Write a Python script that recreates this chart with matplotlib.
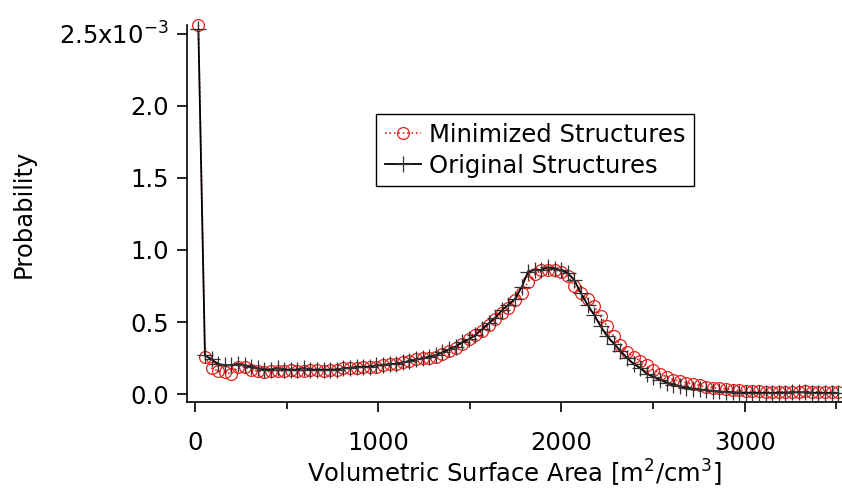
import matplotlib.pyplot as plt
from matplotlib.ticker import MultipleLocator, FuncFormatter

# bin centres [m^2/cm^3]
area = [18, 54, 90, 126, 162, 198, 234, 270, 306, 342,
        378, 414, 450, 486, 522, 558, 594, 630, 666, 702,
        738, 774, 810, 846, 882, 918, 954, 990, 1026, 1062,
        1098, 1134, 1170, 1206, 1242, 1278, 1314, 1350, 1386, 1422,
        1458, 1494, 1530, 1566, 1602, 1638, 1674, 1710, 1746, 1782,
        1818, 1854, 1890, 1926, 1962, 1998, 2034, 2070, 2106, 2142,
        2178, 2214, 2250, 2286, 2322, 2358, 2394, 2430, 2466, 2502,
        2538, 2574, 2610, 2646, 2682, 2718, 2754, 2790, 2826, 2862,
        2898, 2934, 2970, 3006, 3042, 3078, 3114, 3150, 3186, 3222,
        3258, 3294, 3330, 3366, 3402, 3438, 3474, 3510]

# probability in units of 1e-3
original = [2.53, 0.27, 0.24, 0.21, 0.20, 0.20, 0.21, 0.20, 0.19, 0.18,
            0.17, 0.17, 0.18, 0.17, 0.17, 0.17, 0.18, 0.17, 0.17, 0.17,
            0.17, 0.17, 0.18, 0.18, 0.19, 0.19, 0.19, 0.20, 0.20, 0.21,
            0.21, 0.22, 0.23, 0.24, 0.25, 0.26, 0.27, 0.29, 0.31, 0.33,
            0.36, 0.38, 0.41, 0.45, 0.49, 0.53, 0.58, 0.62, 0.66, 0.74,
            0.85, 0.86, 0.86, 0.88, 0.87, 0.86, 0.84, 0.79, 0.70, 0.62,
            0.55, 0.47, 0.40, 0.35, 0.30, 0.25, 0.21, 0.18, 0.14, 0.12,
            0.10, 0.08, 0.065, 0.055, 0.045, 0.038, 0.032, 0.027, 0.022, 0.018,
            0.015, 0.013, 0.011, 0.010, 0.009, 0.010, 0.008, 0.009, 0.010, 0.011,
            0.012, 0.013, 0.012, 0.010, 0.009, 0.008, 0.008, 0.007]

minimized = [2.56, 0.26, 0.18, 0.16, 0.15, 0.14, 0.19, 0.19, 0.17, 0.16,
             0.15, 0.16, 0.16, 0.16, 0.17, 0.16, 0.16, 0.17, 0.17, 0.16,
             0.17, 0.17, 0.18, 0.18, 0.18, 0.19, 0.19, 0.19, 0.20, 0.21,
             0.21, 0.22, 0.23, 0.24, 0.25, 0.25, 0.26, 0.28, 0.30, 0.32,
             0.35, 0.38, 0.41, 0.44, 0.48, 0.52, 0.56, 0.60, 0.65, 0.70,
             0.78, 0.83, 0.86, 0.86, 0.86, 0.85, 0.82, 0.75, 0.70, 0.66,
             0.61, 0.54, 0.47, 0.40, 0.34, 0.29, 0.26, 0.23, 0.20, 0.17,
             0.14, 0.12, 0.10, 0.09, 0.08, 0.07, 0.06, 0.05, 0.045, 0.04,
             0.035, 0.03, 0.025, 0.022, 0.02, 0.018, 0.017, 0.016, 0.015, 0.015,
             0.016, 0.017, 0.018, 0.017, 0.016, 0.015, 0.014, 0.013]

plt.rcParams['font.family'] = 'DejaVu Sans'
plt.rcParams['font.size'] = 17.5

fig = plt.figure(figsize=(8.42, 4.97), dpi=100)
ax = fig.add_axes([0.2221, 0.1911, 0.7779, 0.7586])

ax.plot(area, minimized, color='#e8201c', linestyle=':', linewidth=1.2,
        marker='o', markersize=8.5, markerfacecolor='none', markeredgewidth=0.9,
        label='Minimized Structures', clip_on=False, zorder=2)
ax.plot(area, original, color='black', linestyle='-', linewidth=1.3,
        marker='+', markersize=11, markeredgecolor='#333333', markeredgewidth=0.9,
        label='Original Structures', clip_on=False, zorder=3)

ax.set_xlim(-44, 3531)
ax.set_ylim(-0.055, 2.56)

for side in ['top', 'right']:
    ax.spines[side].set_visible(False)
for side in ['left', 'bottom']:
    ax.spines[side].set_linewidth(1.2)

ax.xaxis.set_major_locator(MultipleLocator(1000))
ax.xaxis.set_minor_locator(MultipleLocator(500))
ax.yaxis.set_major_locator(MultipleLocator(0.5))


def yfmt(v, pos):
    if abs(v - 2.5) < 1e-6:
        return '2.5x10$^{-3}$'
    return '%.1f' % v


ax.yaxis.set_major_formatter(FuncFormatter(yfmt))
ax.tick_params(axis='both', which='major', direction='out', length=7, width=1.2, labelsize=17.5)
ax.tick_params(axis='y', which='major', pad=6)
ax.tick_params(axis='x', which='major', pad=14)
ax.tick_params(axis='x', which='minor', direction='out', length=5, width=1.2)

ax.set_xlabel('Volumetric Surface Area [m$^2$/cm$^3$]', fontsize=17.5, labelpad=2)
ax.set_ylabel('Probability', fontsize=17.5)
ax.yaxis.set_label_coords(-0.231, 0.5)

leg = ax.legend(loc='upper left', bbox_to_anchor=(376 / 842, 1 - 114 / 497),
                bbox_transform=fig.transFigure, fontsize=17.5, frameon=True,
                fancybox=False, framealpha=1, edgecolor='black',
                handlelength=1.5, handletextpad=0.35, borderpad=0.35,
                borderaxespad=0, labelspacing=0.3)
leg.get_frame().set_linewidth(1.0)

fig.savefig('out.png', dpi=100)
